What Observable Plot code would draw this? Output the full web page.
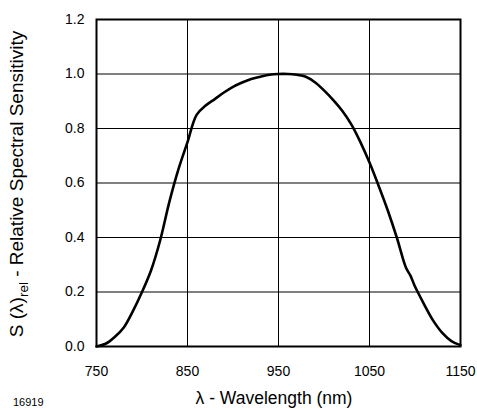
<!DOCTYPE html>
<html><head><meta charset="utf-8">
<script src="https://cdn.jsdelivr.net/npm/d3@7"></script>
<script src="https://cdn.jsdelivr.net/npm/@observablehq/plot@0.6"></script>
<style>body{margin:0;background:#fff;} svg{font-family:"Liberation Sans",Arial,sans-serif;}</style>
</head><body><div id="chart"></div>
<script>
const wavelength = [750,760,770,780,790,800,810,820,830,840,850,860,870,880,890,900,910,920,930,940,950,960,970,980,990,1000,1010,1020,1030,1040,1050,1060,1070,1080,1090,1095,1100,1110,1120,1130,1140,1150];
const sensitivity = [0.0,0.01,0.035,0.07,0.13,0.2,0.28,0.39,0.53,0.65,0.75,0.85,0.884,0.908,0.932,0.953,0.969,0.982,0.99,0.997,1.0,1.0,0.997,0.99,0.97,0.94,0.905,0.865,0.815,0.75,0.675,0.59,0.5,0.4,0.29,0.26,0.22,0.155,0.095,0.05,0.02,0.005];
const xTicks = [750,850,950,1050,1150];
const yTicks = [0,0.2,0.4,0.6,0.8,1.0,1.2];
const xLabel = "λ - Wavelength (nm)";
const yLabelMain = "S (λ)";
const yLabelSub = "rel";
const yLabelRest = " - Relative Spectral Sensitivity";
const figureId = "16919";

const data = wavelength.map((w,i)=>({w, s: sensitivity[i]}));

const svg = Plot.plot({
  width: 477, height: 410,
  marginLeft: 96, marginRight: 17, marginTop: 19, marginBottom: 64,
  style: {fontFamily: '"Liberation Sans", Arial, sans-serif', fontSize: "14px", color: "#000", background: "#fff"},
  x: {domain: [750,1150], ticks: xTicks, tickFormat: d => String(d), tickSize: 0, tickPadding: 20, label: null},
  y: {domain: [0,1.2], ticks: yTicks, tickFormat: d => d.toFixed(1), tickSize: 0, tickPadding: 12, label: null},
  marks: [
    Plot.gridX(xTicks, {stroke: "#000", strokeOpacity: 1, strokeWidth: 1}),
    Plot.gridY(yTicks, {stroke: "#000", strokeOpacity: 1, strokeWidth: 1}),
    Plot.line(data, {x: "w", y: "s", stroke: "#000", strokeWidth: 2.6, curve: "catmull-rom"}),
    Plot.frame({stroke: "#000", strokeWidth: 2})
  ]
});

const s = d3.select(svg);
const t = s.append("text")
  .attr("transform", "translate(23,184) rotate(-90)")
  .attr("text-anchor", "middle")
  .style("font-size", "19px")
  .attr("fill", "#000");
t.append("tspan").text(yLabelMain);
t.append("tspan").style("font-size", "13.5px").attr("dy", 5).text(yLabelSub);
t.append("tspan").attr("dy", -5).text(yLabelRest);

s.append("text")
  .attr("x", 274).attr("y", 404)
  .attr("text-anchor", "middle")
  .style("font-size", "17.5px")
  .attr("fill", "#000")
  .text(xLabel);

s.append("text")
  .attr("x", 13).attr("y", 406)
  .attr("text-anchor", "start")
  .style("font-size", "11px")
  .attr("fill", "#000")
  .text(figureId);

document.getElementById("chart").appendChild(svg);
</script></body></html>
